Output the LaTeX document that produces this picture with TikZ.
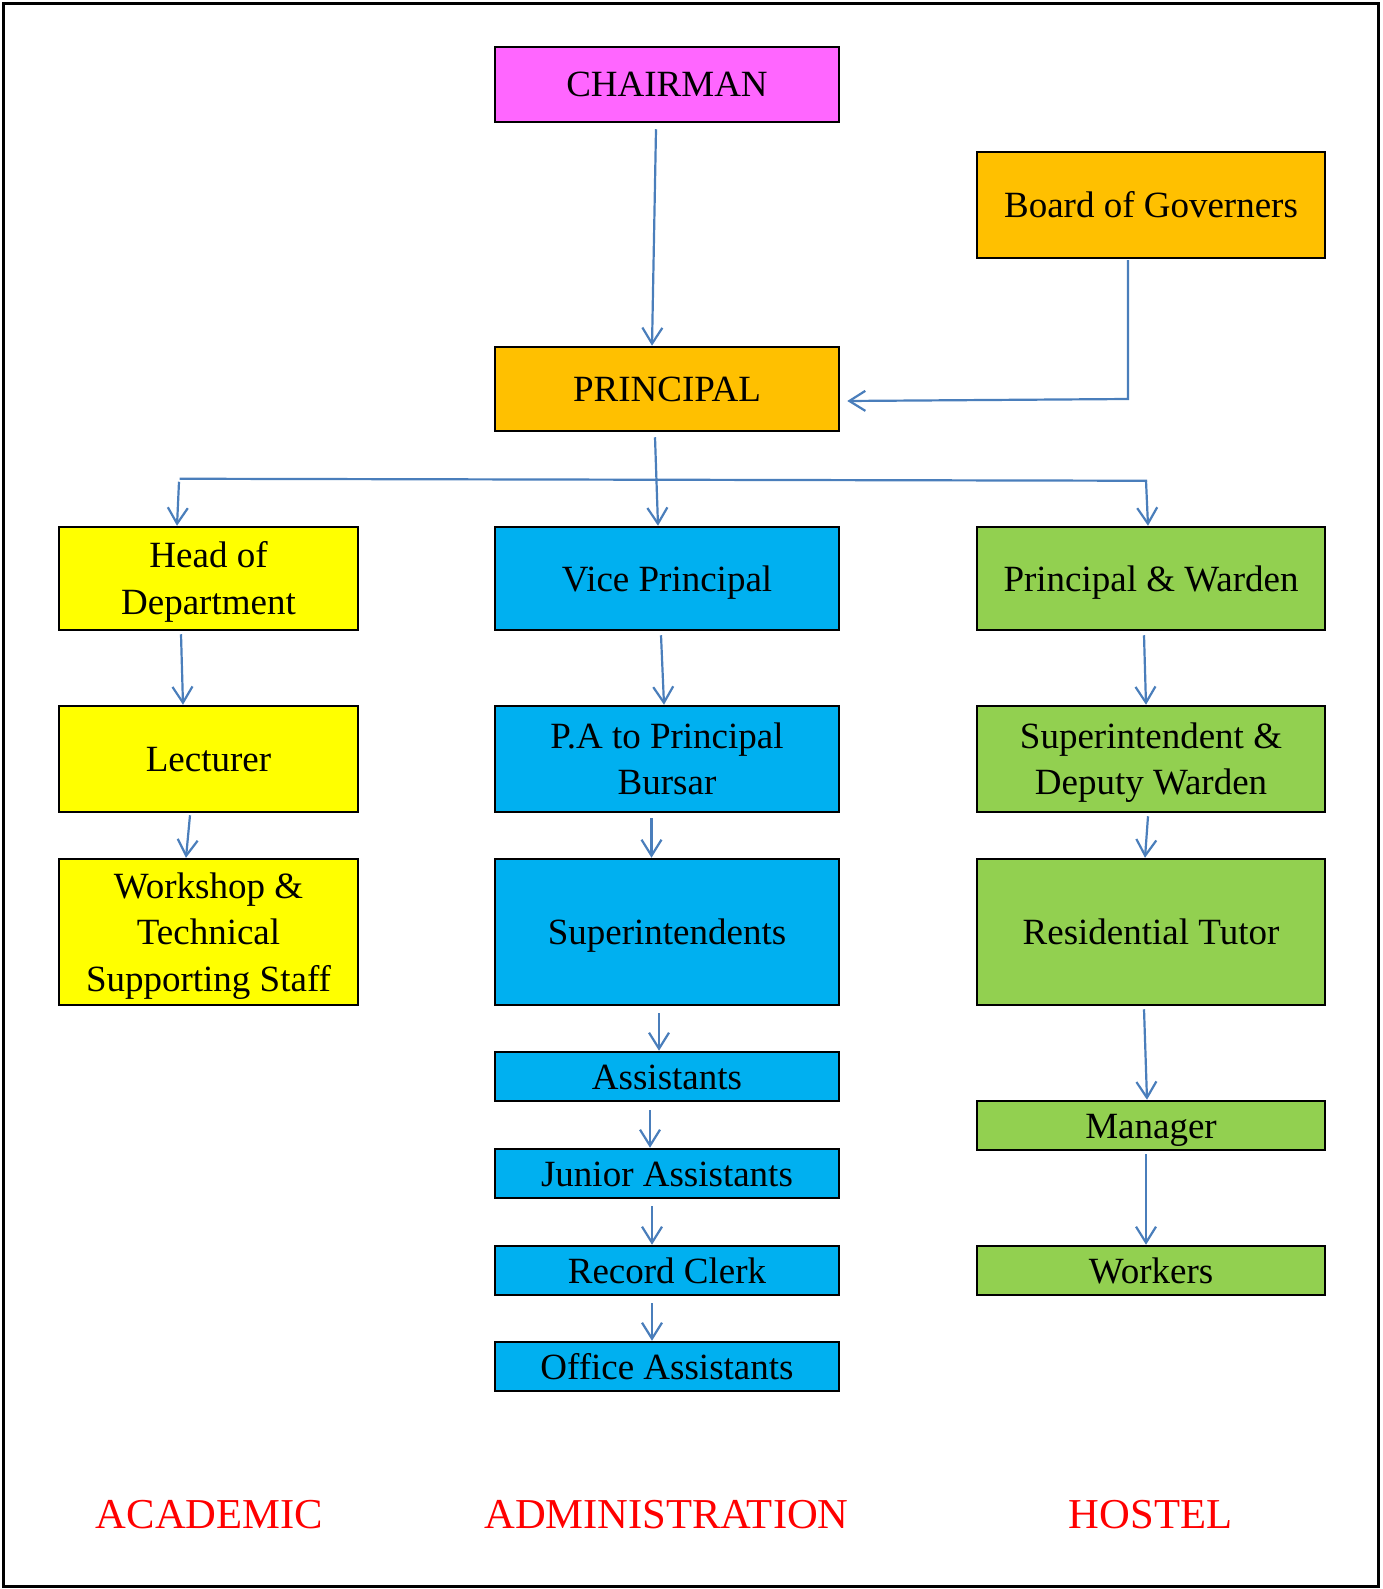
\documentclass[tikz,border=0pt]{standalone}
\usepackage{fontspec}
\setmainfont{Liberation Serif}
\usetikzlibrary{arrows.meta}
\definecolor{cmag}{HTML}{FF66FF}
\definecolor{corange}{HTML}{FFC000}
\definecolor{cyellow}{HTML}{FFFF00}
\definecolor{cblue}{HTML}{00B0F0}
\definecolor{cgreen}{HTML}{92D050}
\definecolor{clink}{HTML}{4A7EBB}
\definecolor{cred}{HTML}{FF0000}
\begin{document}
\begin{tikzpicture}[x=1pt,y=-1pt,
  box/.style={draw=black, line width=2.5pt, inner sep=0pt, align=center,
    font=\fontsize{37}{46.5}\selectfont, text height=25pt, text depth=0pt},
  twoline/.style={text height=71.5pt},
  threeline/.style={text height=118pt},
  colbox/.style={box, minimum width=344pt},
  sidebox/.style={box, minimum width=299pt},
  rightbox/.style={box, minimum width=348pt},
  conn/.style={draw=clink, line width=2.2pt, -{Straight Barb[length=16pt,width=20pt]}},
  plainconn/.style={draw=clink, line width=2.2pt},
  section/.style={text=cred, anchor=base, font=\fontsize{42.6}{50}\selectfont}
]
\useasboundingbox (0,0) rectangle (1382,1589);
\draw[line width=2.5pt] (3.5,3.5) rectangle (1378.5,1586.5);

% top
\node[colbox, fill=cmag, minimum height=75pt] (chair) at (667,84.5) {CHAIRMAN};
\node[rightbox, fill=corange, minimum height=106pt] (board) at (1151,205) {Board of Governers};
\node[colbox, fill=corange, minimum height=84pt] (princ) at (667,389) {PRINCIPAL};

% academic
\node[sidebox, twoline, fill=cyellow, minimum height=103pt] (hod) at (208.5,578.5) {Head of\\Department};
\node[sidebox, fill=cyellow, minimum height=106pt] (lect) at (208.5,759) {Lecturer};
\node[sidebox, threeline, fill=cyellow, minimum height=146pt] (ws) at (208.5,932) {Workshop \&\\Technical\\Supporting Staff};

% administration
\node[colbox, fill=cblue, minimum height=103pt] (vp) at (667,578.5) {Vice Principal};
\node[colbox, twoline, fill=cblue, minimum height=106pt] (pa) at (667,759) {P.A to Principal\\Bursar};
\node[colbox, fill=cblue, minimum height=146pt] (supt) at (667,932) {Superintendents};
\node[colbox, fill=cblue, minimum height=49pt] (asst) at (667,1076.5) {Assistants};
\node[colbox, fill=cblue, minimum height=49pt] (jr) at (667,1173.5) {Junior Assistants};
\node[colbox, fill=cblue, minimum height=49pt] (rec) at (667,1270.5) {Record Clerk};
\node[colbox, fill=cblue, minimum height=49pt] (off) at (667,1366.5) {Office Assistants};

% hostel
\node[rightbox, fill=cgreen, minimum height=103pt] (pw) at (1151,578.5) {Principal \& Warden};
\node[rightbox, twoline, fill=cgreen, minimum height=106pt] (sdw) at (1151,759) {Superintendent \&\\Deputy Warden};
\node[rightbox, fill=cgreen, minimum height=146pt] (rt) at (1151,932) {Residential Tutor};
\node[rightbox, fill=cgreen, minimum height=49pt] (mgr) at (1151,1125.5) {Manager};
\node[rightbox, fill=cgreen, minimum height=49pt] (wrk) at (1151,1270.5) {Workers};

% section labels
\node[section] (lacad) at (209.5,1528) {ACADEMIC};
\node[section] (ladmin) at (666.5,1528) {ADMINISTRATION};
\node[section] (lhostel) at (1150.5,1528) {HOSTEL};

% connectors
\draw[conn] ([shift={(-11,6)}]chair.south) -- ([shift={(-15,0)}]princ.north);
\draw[conn] ([shift={(-23,1)}]board.south) -- ([shift={(-23,10)}]board.south |- princ.east)
  -- ([shift={(7,12)}]princ.east);
\draw[conn] ([shift={(-12,5)}]princ.south) -- ([shift={(-9,0)}]vp.north);
\draw[plainconn] ([shift={(-29,-47)}]hod.north) -- ([shift={(-4,-45)}]pw.north);
\draw[conn] ([shift={(-29.5,-44)}]hod.north) -- ([shift={(-31.5,0)}]hod.north);
\draw[conn] ([shift={(-5,-45)}]pw.north) -- ([shift={(-3,0)}]pw.north);

\draw[conn] ([shift={(-27.5,3)}]hod.south) -- ([shift={(-25.5,0)}]lect.north);
\draw[conn] ([shift={(-18.5,2)}]lect.south) -- ([shift={(-22.5,0)}]ws.north);

\draw[conn] ([shift={(-6,4)}]vp.south) -- ([shift={(-3,0)}]pa.north);
\draw[conn] ([shift={(-15.5,5)}]pa.south) -- ([shift={(-15.5,0)}]supt.north);
\draw[conn] ([shift={(-8,7)}]supt.south) -- ([shift={(-8,0)}]asst.north);
\draw[conn] ([shift={(-17,8)}]asst.south) -- ([shift={(-17,0)}]jr.north);
\draw[conn] ([shift={(-15,7)}]jr.south) -- ([shift={(-15,0)}]rec.north);
\draw[conn] ([shift={(-15,7)}]rec.south) -- ([shift={(-15,0)}]off.north);

\draw[conn] ([shift={(-7,4)}]pw.south) -- ([shift={(-5,0)}]sdw.north);
\draw[conn] ([shift={(-3,3)}]sdw.south) -- ([shift={(-6,0)}]rt.north);
\draw[conn] ([shift={(-7,3)}]rt.south) -- ([shift={(-4,0)}]mgr.north);
\draw[conn] ([shift={(-5,3)}]mgr.south) -- ([shift={(-5,0)}]wrk.north);
\end{tikzpicture}
\end{document}
